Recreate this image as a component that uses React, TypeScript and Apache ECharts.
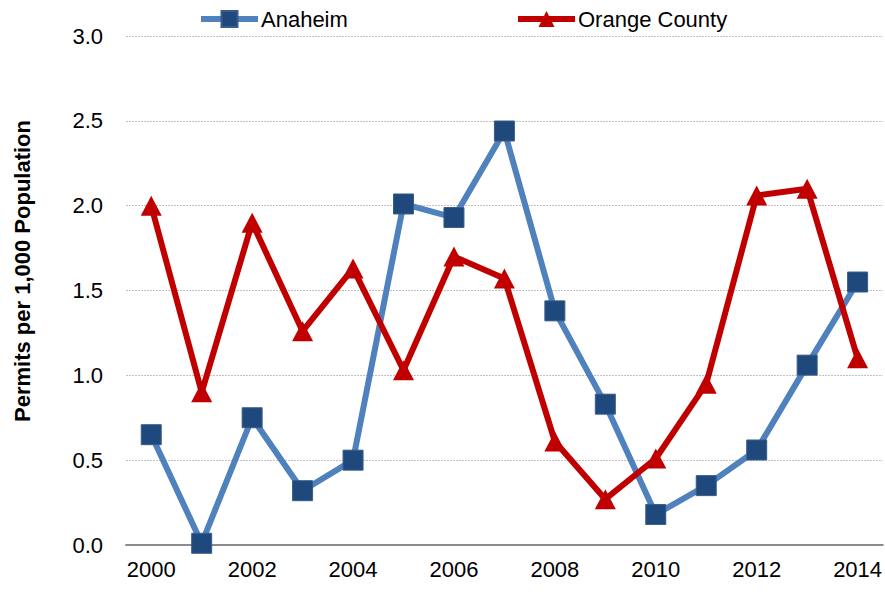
import React, { useEffect, useRef } from "react";
import * as echarts from "echarts";

const years = ["2000","2001","2002","2003","2004","2005","2006","2007","2008","2009","2010","2011","2012","2013","2014"];
const anaheim = [0.65, 0.01, 0.75, 0.32, 0.50, 2.01, 1.93, 2.44, 1.38, 0.83, 0.18, 0.35, 0.56, 1.06, 1.55];
const orangeCounty = [2.0, 0.90, 1.90, 1.26, 1.63, 1.03, 1.70, 1.57, 0.61, 0.27, 0.51, 0.95, 2.06, 2.10, 1.10];
const yTitle = "Permits per 1,000 Population";

const FONT = "'Liberation Sans', Arial, sans-serif";

export default function App() {
  const ref = useRef<HTMLDivElement>(null);
  useEffect(() => {
    if (!ref.current) return;
    const chart = echarts.init(ref.current, null, { renderer: "svg" });
    const legendBase = {
      top: 8,
      padding: 0,
      itemWidth: 57,
      itemHeight: 20,
      itemGap: 4,
      lineStyle: { width: 6 },
      textStyle: { fontSize: 22, color: "#000", fontFamily: FONT, padding: [0, 0, 0, -2] },
    };
    chart.setOption({
      animation: false,
      backgroundColor: "#ffffff",
      textStyle: { fontFamily: FONT },
      grid: { left: 126, right: 0, top: 36, bottom: 48, containLabel: false },
      legend: [
        { ...legendBase, data: ["Anaheim"], left: 198 },
        { ...legendBase, data: ["Orange County"], left: 515 },
      ],
      xAxis: {
        type: "category",
        data: years,
        boundaryGap: true,
        axisLine: { lineStyle: { color: "#8c8c8c", width: 2 } },
        axisTick: { show: false },
        axisLabel: {
          interval: 1,
          fontSize: 22,
          color: "#000",
          margin: 13,
          fontFamily: FONT,
        },
        splitLine: { show: false },
      },
      yAxis: {
        type: "value",
        min: 0,
        max: 3,
        interval: 0.5,
        axisLine: { show: false },
        axisTick: { show: false },
        axisLabel: {
          fontSize: 22,
          color: "#000",
          margin: 23,
          fontFamily: FONT,
          formatter: (v: number) => v.toFixed(1),
        },
        splitLine: { lineStyle: { color: "#c0c0c0", type: [2, 1], width: 1 } },
      },
      graphic: [
        {
          type: "text",
          x: 22,
          y: 271,
          rotation: Math.PI / 2,
          style: {
            text: yTitle,
            fontSize: 22,
            fontWeight: "bold",
            fontFamily: FONT,
            fill: "#000",
            textAlign: "center",
            textVerticalAlign: "middle",
          },
        },
      ],
      series: [
        {
          name: "Anaheim",
          type: "line",
          data: anaheim,
          symbol: "rect",
          symbolSize: 20,
          lineStyle: { color: "#4f81bd", width: 6 },
          itemStyle: { color: "#1f497d", borderColor: "#385d8a", borderWidth: 1 },
          z: 2,
        },
        {
          name: "Orange County",
          type: "line",
          data: orangeCounty,
          symbol: "triangle",
          symbolSize: [21, 20],
          lineStyle: { color: "#c00000", width: 6 },
          itemStyle: { color: "#c00000" },
          z: 3,
        },
      ],
    });
    return () => chart.dispose();
  }, []);
  return (
    <div
      ref={ref}
      style={{ position: "fixed", left: 0, top: 0, width: 885, height: 593 }}
    />
  );
}
